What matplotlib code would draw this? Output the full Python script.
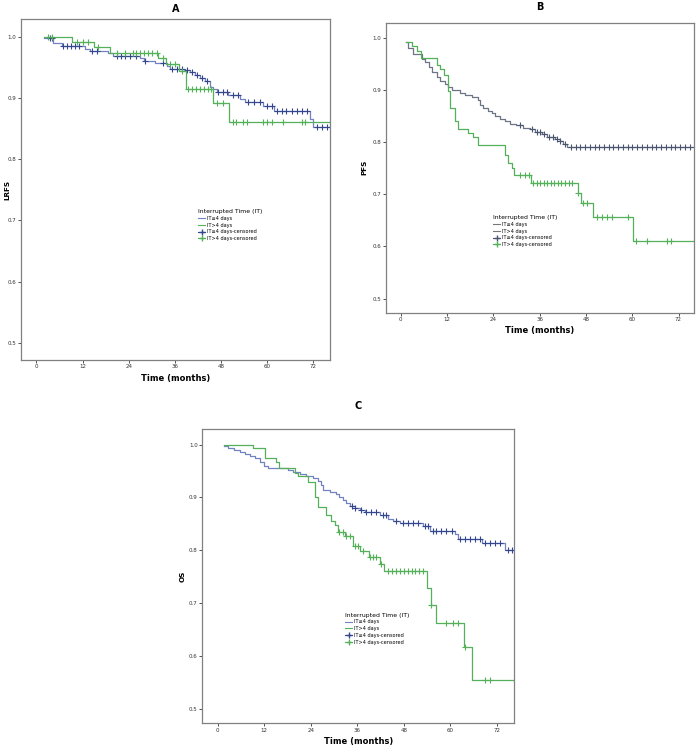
import matplotlib
matplotlib.use("Agg")
import matplotlib.pyplot as plt
import numpy as np
from matplotlib.lines import Line2D

# ---- Panel A: LRFS ----
a_low_t = [2.1, 4.4, 6.6, 12.7, 14.0, 18.7, 20.0, 27.0, 28.0, 30.8, 33.9, 34.7, 38.6, 40.0,
           41.2, 42.5, 43.8, 45.0, 46.0, 46.9, 49.9, 52.9, 54.2, 59.0, 61.8, 71.1, 72.0]
a_low_s = [0.998, 0.990, 0.985, 0.980, 0.976, 0.973, 0.968, 0.965, 0.961, 0.957, 0.953, 0.948,
           0.945, 0.942, 0.937, 0.932, 0.927, 0.918, 0.914, 0.909, 0.905, 0.899, 0.893, 0.887,
           0.878, 0.865, 0.852]
a_low_c = [3.6, 4.0, 7.0, 8.0, 9.0, 10.0, 11.0, 14.4, 15.7, 20.9, 22.0, 23.0, 24.3, 26.0, 28.3,
           33.0, 35.2, 36.5, 37.8, 39.1, 40.4, 41.7, 43.0, 44.3, 47.3, 48.6, 49.5, 51.2, 52.5,
           55.1, 56.6, 58.1, 59.9, 61.2, 62.5, 63.8, 65.0, 66.3, 67.6, 68.9, 70.3, 72.9, 74.2, 75.5]
a_high_t = [2.1, 9.2, 15.1, 19.2, 31.7, 33.6, 37.1, 38.8, 46.0, 50.0]
a_high_s = [1.0, 0.992, 0.983, 0.974, 0.965, 0.955, 0.944, 0.914, 0.892, 0.860]
a_high_c = [3.1, 4.0, 10.5, 12.2, 13.3, 16.1, 20.9, 23.0, 25.0, 26.0, 27.0, 28.0, 29.0, 30.0,
            31.3, 33.0, 34.7, 36.0, 37.8, 39.5, 40.5, 41.5, 42.5, 43.5, 44.5, 45.5, 46.9, 48.6,
            51.2, 52.0, 53.8, 54.7, 59.0, 59.9, 61.2, 64.2, 69.0, 69.8]

# ---- Panel B: PFS ----
b_low_t = [1.3, 2.0, 3.3, 5.4, 6.3, 7.2, 8.0, 9.3, 10.2, 11.5, 12.3, 13.2, 15.4, 16.7, 18.4,
           20.1, 20.6, 21.4, 22.7, 23.6, 24.4, 25.7, 27.0, 28.3, 30.0, 31.8, 33.5, 34.8, 36.5,
           37.8, 40.0, 41.3, 42.1, 43.0]
b_low_s = [0.993, 0.980, 0.970, 0.960, 0.953, 0.945, 0.935, 0.925, 0.918, 0.912, 0.905, 0.900,
           0.895, 0.891, 0.886, 0.880, 0.872, 0.865, 0.860, 0.855, 0.850, 0.845, 0.840, 0.835,
           0.832, 0.828, 0.825, 0.820, 0.815, 0.810, 0.806, 0.802, 0.797, 0.791]
b_low_c = [30.9, 33.9, 35.2, 36.1, 37.0, 38.3, 39.5, 40.4, 41.3, 42.6, 44.0, 45.3, 46.5, 47.8,
           49.0, 50.3, 51.5, 52.8, 54.0, 55.0, 56.3, 57.5, 58.8, 60.0, 61.2, 62.5, 63.7, 65.0,
           66.2, 67.5, 68.7, 70.0, 71.2, 72.5, 73.7, 75.0]
b_high_t = [1.3, 2.8, 4.1, 5.3, 9.3, 10.2, 11.3, 12.2, 12.8, 14.1, 14.9, 17.5, 18.8, 20.1,
            27.0, 27.9, 28.8, 29.4, 33.7, 46.0, 46.6, 49.9, 60.1]
b_high_s = [0.993, 0.985, 0.975, 0.962, 0.948, 0.940, 0.928, 0.898, 0.865, 0.841, 0.826, 0.818,
            0.810, 0.794, 0.776, 0.760, 0.750, 0.738, 0.721, 0.703, 0.683, 0.657, 0.610]
b_high_c = [30.9, 32.2, 33.2, 34.4, 35.3, 36.2, 37.1, 38.0, 38.9, 39.8, 40.7, 41.6, 42.5, 43.5,
            44.4, 46.0, 47.2, 48.2, 50.8, 52.1, 53.4, 54.7, 59.0, 61.0, 63.7, 68.9, 70.0]

# ---- Panel C: OS ----
c_low_t = [1.55, 2.6, 4.3, 5.6, 6.9, 8.2, 9.5, 10.8, 11.9, 12.9, 18.1, 19.4, 21.1, 22.8, 24.5,
           25.8, 26.7, 27.1, 28.9, 30.6, 31.4, 32.3, 33.2, 34.0, 35.3, 36.6, 37.9, 41.9, 43.9,
           45.2, 46.9, 53.0, 54.7, 61.2, 62.1, 68.2, 74.1]
c_low_s = [0.997, 0.993, 0.990, 0.986, 0.983, 0.978, 0.974, 0.968, 0.960, 0.956, 0.952, 0.948,
           0.944, 0.940, 0.936, 0.931, 0.924, 0.914, 0.910, 0.906, 0.900, 0.895, 0.890, 0.884,
           0.880, 0.876, 0.873, 0.867, 0.860, 0.856, 0.852, 0.846, 0.837, 0.830, 0.822, 0.813,
           0.800]
c_low_c = [34.5, 35.3, 37.0, 38.3, 39.6, 40.9, 42.6, 43.3, 46.1, 47.8, 49.1, 50.4, 51.7, 53.4,
           54.3, 55.6, 56.4, 57.7, 59.0, 60.3, 62.4, 63.7, 65.0, 66.3, 67.6, 68.9, 70.2, 71.5,
           72.8, 74.9, 75.8]
c_high_t = [1.55, 9.0, 12.1, 15.1, 15.9, 19.8, 20.7, 23.3, 25.0, 25.8, 28.0, 29.3, 30.3, 31.0,
            32.7, 34.9, 36.6, 38.9, 41.9, 42.9, 54.0, 55.0, 56.2, 63.5, 65.5]
c_high_s = [1.0, 0.993, 0.975, 0.967, 0.955, 0.947, 0.940, 0.929, 0.900, 0.882, 0.866, 0.856,
            0.847, 0.835, 0.826, 0.808, 0.798, 0.787, 0.774, 0.760, 0.729, 0.697, 0.663, 0.616,
            0.554]
c_high_c = [31.4, 32.3, 33.2, 34.0, 35.3, 36.2, 37.5, 39.2, 40.0, 40.9, 42.2, 44.0, 45.0, 46.0,
            47.0, 48.0, 49.0, 50.0, 51.0, 52.0, 53.0, 55.1, 59.0, 60.7, 62.0, 63.9, 68.9, 70.2]

x_ticks = [0, 12, 24, 36, 48, 60, 72]
y_ticks = [0.5, 0.6, 0.7, 0.8, 0.9, 1.0]
legend_labels = ["IT\u22644 days", "IT>4 days", "IT\u22644 days-censored", "IT>4 days-censored"]

blue_line = "#7382c0"
blue_mark = "#34468c"
green = "#55b05a"
frame_col = "#808080"


def km(ax, t, s, cens, t_end, lc, mc):
    x = list(t) + [t_end]
    y = list(s) + [s[-1]]
    ax.step(x, y, where="post", color=lc, lw=0.9)
    idx = np.searchsorted(t, cens, side="right") - 1
    ax.plot(cens, np.array(s)[idx], ls="none", marker="+", ms=4, mew=0.8, color=mc)


def style(ax, title, ylabel, xlim, ylim, tpad, ylab_x):
    ax.set_xlim(*xlim)
    ax.set_ylim(*ylim)
    ax.set_xticks(x_ticks)
    ax.set_xticklabels([str(v) for v in x_ticks])
    ax.set_yticks(y_ticks)
    ax.set_yticklabels(["%.1f" % v for v in y_ticks])
    ax.tick_params(labelsize=4, length=2, width=0.6, colors="#333333", pad=1.2)
    for sp in ax.spines.values():
        sp.set_color(frame_col)
        sp.set_linewidth(0.9)
    ax.set_title(title, fontsize=7, fontweight="bold", pad=tpad)
    ax.set_ylabel(ylabel, fontsize=5.2, fontweight="bold")
    ax.yaxis.set_label_coords(ylab_x, 0.5)
    ax.set_xlabel("Time (months)", fontsize=6, fontweight="bold", labelpad=3)


def legend(ax, x, y, c1, c2, m1, m2):
    handles = [Line2D([0], [0], color=c1, lw=0.8),
               Line2D([0], [0], color=c2, lw=0.8),
               Line2D([0], [0], color=m1, lw=0.8, marker="+", ms=4),
               Line2D([0], [0], color=m2, lw=0.8, marker="+", ms=4)]
    lg = ax.legend(handles, legend_labels, title="Interrupted Time (IT)", loc="upper left",
                   bbox_to_anchor=(x, y), frameon=False, fontsize=3.6, title_fontsize=4.4,
                   handlelength=1.4, handletextpad=0.3, labelspacing=0.35, borderpad=0)
    lg._legend_box.align = "left"


fig = plt.figure(figsize=(7, 7.53), dpi=100)

axA = fig.add_axes([0.030, 0.5219, 0.4414, 0.4529])
km(axA, a_low_t, a_low_s, a_low_c, 76.3, blue_line, blue_mark)
km(axA, a_high_t, a_high_s, a_high_c, 76.3, green, green)
style(axA, "A", "LRFS", (-4.0, 76.3), (0.472, 1.029), 5, -0.034)
legend(axA, 0.565, 0.45, blue_line, green, blue_mark, green)

axB = fig.add_axes([0.551, 0.5847, 0.4404, 0.3851])
km(axB, b_low_t, b_low_s, b_low_c, 76.0, "#6d7486", "#4a5670")
km(axB, b_high_t, b_high_s, b_high_c, 76.0, green, green)
style(axB, "B", "PFS", (-3.9, 76.0), (0.473, 1.029), 9, -0.058)
legend(axB, 0.34, 0.345, "#777777", "#777777", "#4a5670", green)

axC = fig.add_axes([0.289, 0.0394, 0.4457, 0.3904])
km(axC, c_low_t, c_low_s, c_low_c, 76.5, blue_line, blue_mark)
km(axC, c_high_t, c_high_s, c_high_c, 76.5, green, green)
style(axC, "C", "OS", (-4.0, 76.5), (0.472, 1.029), 15, -0.055)
legend(axC, 0.45, 0.385, blue_line, green, blue_mark, green)

fig.savefig("out.png", dpi=100)
